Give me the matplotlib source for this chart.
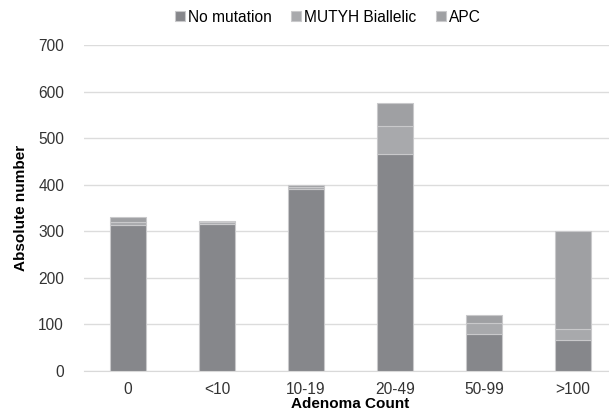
import numpy as np
import matplotlib.pyplot as plt

plt.rcParams['font.family'] = ['Liberation Sans', 'DejaVu Sans']

# donnees
categories = ["0", "<10", "10-19", "20-49", "50-99", ">100"]
no_mutation = [313, 315, 390, 465, 80, 67]
mutyh = [7, 4, 5, 60, 22, 23]
apc = [10, 4, 5, 50, 18, 210]

colors = ["#86878b", "#a8a9ac", "#9fa0a3"]

fig = plt.figure(figsize=(6.09, 4.15), dpi=100)
ax = fig.add_axes([83.5 / 609, 44 / 415, 534 / 609, 326 / 415])

x = np.arange(len(categories))
bottom = np.zeros(len(categories))
series = [("No mutation", no_mutation), ("MUTYH Biallelic", mutyh), ("APC", apc)]
handles = []
for (name, vals), c in zip(series, colors):
    b = ax.bar(x, vals, width=0.4, bottom=bottom, color=c, edgecolor="#c9c9cb",
               linewidth=0.8, label=name, zorder=3)
    handles.append(b)
    bottom += np.array(vals)

ax.set_xlim(-0.5, 5.5)
ax.set_ylim(0, 700)
ax.set_yticks(range(0, 701, 100))
ax.set_xticks(x)
ax.set_xticklabels(categories)
ax.yaxis.grid(True, color="#dcdcdc", linewidth=1, zorder=0)
ax.set_axisbelow(True)
for s in ["top", "right", "left"]:
    ax.spines[s].set_visible(False)
ax.spines["bottom"].set_color("#d9d9d9")
ax.tick_params(axis="both", length=0, labelsize=11.2, colors="#333333")
ax.tick_params(axis="y", pad=14)
ax.tick_params(axis="x", pad=8)

ax.set_ylabel("Absolute number", fontsize=11, fontweight="bold", labelpad=7)
ax.set_xlabel("Adenoma Count", fontsize=11, fontweight="bold", labelpad=0)

fig.legend(handles=handles, loc="center", bbox_to_anchor=(328 / 609, 1 - 17 / 415),
           ncol=3, frameon=False, fontsize=11.2, handlelength=0.65, handleheight=0.65,
           handletextpad=0.2, columnspacing=1.25)

plt.savefig("out.png", dpi=100)
